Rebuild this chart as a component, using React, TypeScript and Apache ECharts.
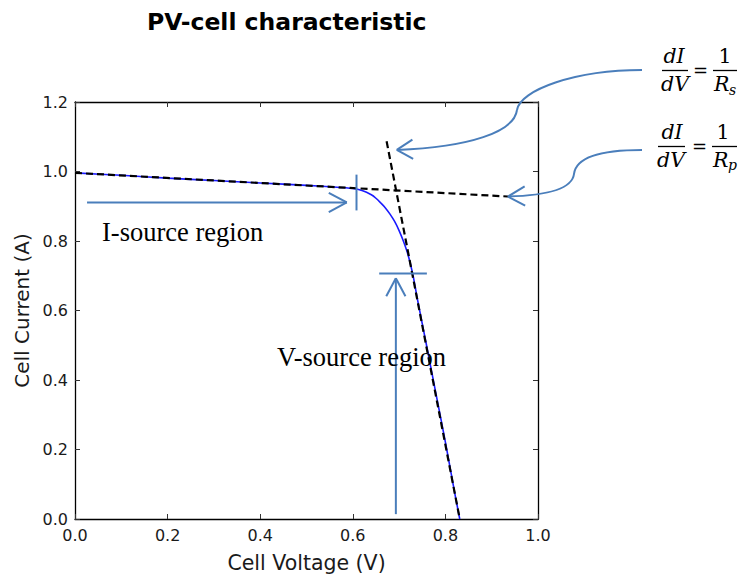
import React, { useEffect, useRef } from "react";
import * as echarts from "echarts";

// PV cell I-V curve
const voltage = [0, 0.1, 0.2, 0.3, 0.4, 0.5, 0.55, 0.6, 0.62, 0.64, 0.65, 0.66, 0.67, 0.68, 0.69, 0.7, 0.71, 0.72, 0.73, 0.74, 0.76, 0.78, 0.8, 0.82, 0.831];
const current = [0.996, 0.989, 0.981, 0.974, 0.967, 0.96, 0.956, 0.951, 0.945, 0.933, 0.923, 0.91, 0.896, 0.878, 0.857, 0.83, 0.797, 0.757, 0.702, 0.63, 0.495, 0.358, 0.221, 0.076, 0];

// tangent lines (dashed)
const rsV = [0.673, 0.831];
const rsI = [1.087, 0];
const rpV = [0, 0.935];
const rpI = [0.996, 0.928];

const xTickValues = [0, 0.2, 0.4, 0.6, 0.8, 1.0];
const yTickValues = [0, 0.2, 0.4, 0.6, 0.8, 1.0, 1.2];

// annotation anchors in data coordinates
const iArrow = { v0: 0.026, v1: 0.587, i: 0.911 };
const kneeTick = { v: 0.608, i0: 0.991, i1: 0.888 };
const vBar = { v0: 0.657, v1: 0.76, i: 0.7065 };
const vArrow = { v: 0.693, i0: 0.014, i1: 0.693 };
const rsTip = { v: 0.695, i: 1.062 };
const rpTip = { v: 0.935, i: 0.928 };

const ANN = "#4a7ebb";

export default function App() {
  const ref = useRef<HTMLDivElement>(null);
  useEffect(() => {
    const chart = echarts.init(ref.current!, null, { renderer: "svg", width: 741, height: 578 });
    const axisLine = { show: true, onZero: false, lineStyle: { color: "#000", width: 1.3 } };
    const tick = { show: true, inside: true, length: 5, lineStyle: { color: "#333", width: 1 } };
    const lbl = { fontFamily: "DejaVu Sans", fontSize: 16, color: "#1a1a1a" };
    chart.setOption({
      animation: false,
      backgroundColor: "#fff",
      title: {
        text: "PV-cell characteristic",
        left: 142,
        top: 5,
        textStyle: { fontFamily: "DejaVu Sans", fontWeight: "bold", fontSize: 23.5, color: "#000" },
      },
      grid: { left: 75, right: 203, top: 102, bottom: 57, containLabel: false },
      xAxis: [
        {
          type: "value", min: 0, max: 1, interval: 0.2, position: "bottom",
          name: "Cell Voltage (V)", nameLocation: "middle", nameGap: 33,
          nameTextStyle: { fontFamily: "DejaVu Sans", fontSize: 20.5, color: "#1a1a1a" },
          axisLine, axisTick: tick,
          axisLabel: { ...lbl, margin: 8, showMinLabel: true, showMaxLabel: true, formatter: (v: number) => (xTickValues.some((t) => Math.abs(t - v) < 1e-9) ? v.toFixed(1) : "") },
          splitLine: { show: false },
        },
        {
          type: "value", min: 0, max: 1, interval: 0.2, position: "top",
          axisLine, axisTick: tick, axisLabel: { show: false }, splitLine: { show: false },
        },
      ],
      yAxis: [
        {
          type: "value", min: 0, max: 1.2, interval: 0.2, position: "left",
          name: "Cell Current (A)", nameLocation: "middle", nameGap: 41,
          nameTextStyle: { fontFamily: "DejaVu Sans", fontSize: 20, color: "#1a1a1a" },
          axisLine, axisTick: tick,
          axisLabel: { ...lbl, margin: 7, showMinLabel: true, showMaxLabel: true, formatter: (v: number) => (yTickValues.some((t) => Math.abs(t - v) < 1e-9) ? v.toFixed(1) : "") },
          splitLine: { show: false },
        },
        {
          type: "value", min: 0, max: 1.2, interval: 0.2, position: "right",
          axisLine, axisTick: tick, axisLabel: { show: false }, splitLine: { show: false },
        },
      ],
      series: [
        {
          type: "line", xAxisIndex: 0, yAxisIndex: 0, symbol: "none", smooth: 0.25, z: 2,
          data: voltage.map((v, i) => [v, current[i]]),
          lineStyle: { color: "#1a1aff", width: 1.6 },
        },
        {
          type: "line", xAxisIndex: 0, yAxisIndex: 0, symbol: "none", z: 3,
          data: rsV.map((v, i) => [v, rsI[i]]),
          lineStyle: { color: "#000", width: 2.2, type: [7, 4] },
        },
        {
          type: "line", xAxisIndex: 0, yAxisIndex: 0, symbol: "none", z: 3,
          data: rpV.map((v, i) => [v, rpI[i]]),
          lineStyle: { color: "#000", width: 2.2, type: [7, 4] },
        },
      ],
    });

    const p = (v: number, i: number) => chart.convertToPixel({ gridIndex: 0 }, [v, i]) as number[];
    const ls = { stroke: ANN, lineWidth: 2, fill: "none" };
    const line = (a: number[], b: number[], style: any = ls) => ({
      type: "line", shape: { x1: a[0], y1: a[1], x2: b[0], y2: b[1] }, style, z: 10,
    });
    const head = (tip: number[], from: number[], back = 18, half = 9.6) => {
      const dx = tip[0] - from[0];
      const dy = tip[1] - from[1];
      const len = Math.hypot(dx, dy) || 1;
      const ux = dx / len, uy = dy / len;
      const bx = tip[0] - ux * back, by = tip[1] - uy * back;
      const nx = -uy, ny = ux;
      return [
        line(tip, [bx + nx * half, by + ny * half]),
        line(tip, [bx - nx * half, by - ny * half]),
      ];
    };
    const bez = (a: number[], c1: number[], c2: number[], b: number[]) => ({
      type: "bezierCurve",
      shape: { x1: a[0], y1: a[1], cpx1: c1[0], cpy1: c1[1], cpx2: c2[0], cpy2: c2[1], x2: b[0], y2: b[1] },
      style: ls, z: 10,
    });
    const txt = (text: string, x: number, y: number, font: string, align = "left", fill = "#000") => ({
      type: "text", x, y, z: 11,
      style: { text, font, fill, align, verticalAlign: "middle" },
    });

    const ia0 = p(iArrow.v0, iArrow.i), ia1 = p(iArrow.v1, iArrow.i);
    const kt0 = p(kneeTick.v, kneeTick.i0), kt1 = p(kneeTick.v, kneeTick.i1);
    const vb0 = p(vBar.v0, vBar.i), vb1 = p(vBar.v1, vBar.i);
    const va0 = p(vArrow.v, vArrow.i0), va1 = p(vArrow.v, vArrow.i1);
    const rs = p(rsTip.v, rsTip.i);
    const rp = p(rpTip.v, rpTip.i);

    const serif = '26.5px "Liberation Serif", "Times New Roman", serif';
    const mathI = 'italic 20.5px "DejaVu Serif", serif';
    const mathN = '20.5px "DejaVu Serif", serif';
    const mathEq = '18px "DejaVu Serif", serif';
    const mathS = 'italic 14px "DejaVu Serif", serif';
    const bar = { stroke: "#000", lineWidth: 1.3 };

    const rsC2 = [470, rs[1] - 3];
    const rpC2 = [545, rp[1] - 1];

    const elements: any[] = [
      line(ia0, ia1), ...head(ia1, ia0),
      line(kt0, kt1),
      line(vb0, vb1),
      line(va0, va1), ...head(va1, va0),
      bez([642, 70], [575, 70], [520, 90], [517, 110]),
      bez([517, 110], [514, 132], rsC2, rs), ...head(rs, rsC2, 16),
      bez([642, 150], [600, 150], [576, 157], [574, 174]),
      bez([574, 174], [572, 190], rpC2, rp), ...head(rp, rpC2, 17),
      txt("I-source region", 102, 232, serif),
      txt("V-source region", 277, 357, serif),
      // dI/dV = 1/Rs
      txt("dI", 674, 56, mathI, "center"),
      line([662, 70.5], [688, 70.5], bar),
      txt("dV", 675, 84, mathI, "center"),
      txt("=", 700.5, 70, mathEq, "center"),
      txt("1", 725, 56, mathN, "center"),
      line([713, 70.5], [737, 70.5], bar),
      txt("R", 714, 84, mathI),
      txt("s", 729, 90, mathS),
      // dI/dV = 1/Rp
      txt("dI", 672, 132, mathI, "center"),
      line([658, 146.5], [685, 146.5], bar),
      txt("dV", 671, 160, mathI, "center"),
      txt("=", 699.5, 146, mathEq, "center"),
      txt("1", 723, 132, mathN, "center"),
      line([712, 146.5], [737, 146.5], bar),
      txt("R", 713, 160, mathI),
      txt("p", 728, 165, mathS),
    ];
    chart.setOption({ graphic: elements });
    return () => chart.dispose();
  }, []);
  return <div ref={ref} style={{ position: "absolute", left: 0, top: 0, width: 741, height: 578 }} />;
}
